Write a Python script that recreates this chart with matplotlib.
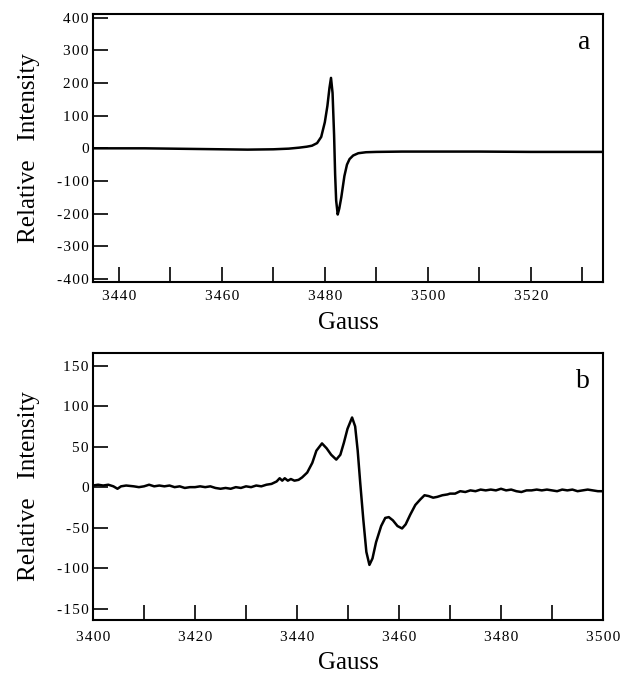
import numpy as np
import matplotlib
matplotlib.use('Agg')
import matplotlib.pyplot as plt
from matplotlib.ticker import MultipleLocator, FuncFormatter

plt.rcParams['font.family'] = ['Liberation Serif', 'DejaVu Serif']
plt.rcParams['axes.unicode_minus'] = False

# panel a: field (G) and relative intensity
gauss_a = [3435, 3440, 3445, 3450, 3455, 3460, 3465, 3470, 3473, 3475, 3476.5,
           3477.5, 3478.5, 3479.3, 3480.0, 3480.5, 3480.9, 3481.2, 3481.5,
           3481.8, 3482.0, 3482.2, 3482.5, 3482.8, 3483.2, 3483.8, 3484.3,
           3484.8, 3485.5, 3486.5, 3488, 3490, 3495, 3500, 3510, 3520, 3534]
inten_a = [0, 0, 0, -1, -2, -3, -4, -3, -1, 2, 5,
           8, 16, 35, 80, 130, 185, 216, 170,
           40, -80, -160, -203, -185, -150, -85, -50,
           -33, -22, -15, -12, -11, -10, -10, -10, -11, -11]

# panel b
gauss_b = [3400, 3401, 3402, 3403, 3404, 3404.8, 3405.5, 3406.5, 3408, 3409,
           3410, 3411, 3412, 3413, 3414, 3415, 3416, 3417, 3418, 3419,
           3420, 3421, 3422, 3423, 3424, 3425, 3426, 3427, 3428, 3429,
           3430, 3431, 3432, 3433, 3434, 3435, 3436, 3436.6, 3437.1, 3437.6,
           3438.2, 3438.8, 3439.5, 3440.3, 3441.0, 3442.0, 3443.0, 3443.8,
           3444.9, 3445.8, 3446.7, 3447.7, 3448.5, 3449.2, 3449.9, 3450.8,
           3451.4, 3451.9, 3452.4, 3453.0, 3453.6, 3454.2, 3454.8, 3455.5,
           3456.5, 3457.3, 3458.0, 3458.8, 3459.7, 3460.6, 3461.3, 3462.2,
           3463.2, 3464.2, 3465.0, 3465.8, 3466.7, 3467.5, 3468.5, 3469.5,
           3470, 3471, 3472, 3473, 3474, 3475, 3476, 3477, 3478, 3479,
           3480, 3481, 3482, 3483, 3484, 3485, 3486, 3487, 3488, 3489,
           3490, 3491, 3492, 3493, 3494, 3495, 3496, 3497, 3498, 3499, 3500]
inten_b = [2, 3, 2, 3, 1, -2, 1, 2, 1, 0,
           1, 3, 1, 2, 1, 2, 0, 1, -1, 0,
           0, 1, 0, 1, -1, -2, -1, -2, 0, -1,
           1, 0, 2, 1, 3, 4, 7, 11, 8, 11,
           8, 10, 8, 9, 12, 18, 30, 45,
           54, 48, 40, 34, 40, 55, 72, 86,
           75, 45, 5, -40, -80, -96, -88, -68,
           -48, -38, -37, -41, -48, -51, -46, -34,
           -22, -15, -10, -11, -13, -12, -10, -9,
           -8, -8, -5, -6, -4, -5, -3, -4, -3, -4,
           -2, -4, -3, -5, -6, -4, -4, -3, -4, -3,
           -4, -5, -3, -4, -3, -5, -4, -3, -4, -5, -5]

fig = plt.figure(figsize=(6.2, 6.75), dpi=100)
ax_a = fig.add_axes([0.15, 0.5822, 0.8226, 0.3971])
ax_b = fig.add_axes([0.15, 0.0815, 0.8226, 0.396])

# the old typesetting spreads the digits apart
spaced = FuncFormatter(lambda v, pos: '\u200a'.join(f'{v:.0f}'))


def style(ax):
    for sp in ax.spines.values():
        sp.set_linewidth(1.5)
    ax.tick_params(which='both', direction='in', length=11, width=1.2,
                   labelsize=11, top=False, right=False)
    ax.tick_params(axis='x', pad=6)
    ax.tick_params(axis='y', pad=3)
    ax.xaxis.set_major_formatter(spaced)
    ax.yaxis.set_major_formatter(spaced)
    ax.set_xlabel('Gauss', fontsize=18, labelpad=6)
    ax.set_ylabel('Relative   Intensity', fontsize=18, labelpad=12)


ax_a.plot(gauss_a, inten_a, color='black', lw=1.8)
ax_a.set_xlim(3435, 3534)
ax_a.set_ylim(-410, 412)
ax_a.xaxis.set_major_locator(MultipleLocator(20))
ax_a.xaxis.set_minor_locator(MultipleLocator(10))
ax_a.yaxis.set_major_locator(MultipleLocator(100))
style(ax_a)
ax_a.text(0.975, 0.94, 'a', transform=ax_a.transAxes, fontsize=20,
          ha='right', va='top')

ax_b.plot(gauss_b, inten_b, color='black', lw=1.8)
ax_b.set_xlim(3400, 3500)
ax_b.set_ylim(-164, 166)
ax_b.xaxis.set_major_locator(MultipleLocator(20))
ax_b.xaxis.set_minor_locator(MultipleLocator(10))
ax_b.yaxis.set_major_locator(MultipleLocator(50))
style(ax_b)
ax_b.tick_params(axis='x', pad=8)
ax_b.text(0.975, 0.94, 'b', transform=ax_b.transAxes, fontsize=20,
          ha='right', va='top')

fig.savefig('out.png', dpi=100)
